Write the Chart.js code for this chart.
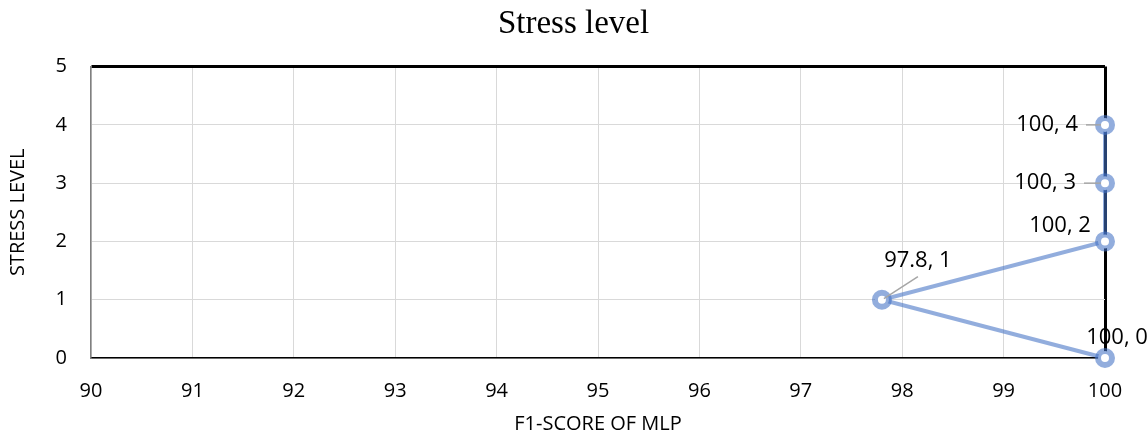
<!DOCTYPE html>
<html>
<head>
<meta charset="utf-8">
<script src="https://cdn.jsdelivr.net/npm/chart.js@4.4.1/dist/chart.umd.min.js"></script>
<style>
  html, body { margin: 0; padding: 0; background: #fff; }
  #wrap { width: 1147px; height: 436px; }
</style>
</head>
<body>
<div id="wrap"><canvas id="chart" width="1147" height="436"></canvas></div>
<script>
// Data
const f1Scores = [100, 97.8, 100, 100, 100];
const stressLevels = [0, 1, 2, 3, 4];
const xTicks = [90, 91, 92, 93, 94, 95, 96, 97, 98, 99, 100];
const yTicks = [0, 1, 2, 3, 4, 5];

const lineColor = 'rgba(68, 114, 196, 0.58)';

// where each data label sits relative to its point (px), and whether it has a leader line
const labelOffsets = [
    { dx: 12, dy: -20, align: 'center', leader: false },
    { dx: 36, dy: -39, align: 'center', leader: true },
    { dx: -45, dy: -16, align: 'center', leader: false },
    { dx: -29, dy: 0, align: 'right', leader: true },
    { dx: -27, dy: 0, align: 'right', leader: true }
];

const dataLabels = {
    id: 'dataLabels',
    afterDatasetsDraw(chart) {
        const ctx = chart.ctx;
        const meta = chart.getDatasetMeta(0);
        ctx.save();
        ctx.font = '22px "Open Sans"';
        ctx.fillStyle = '#000';
        ctx.textBaseline = 'middle';
        meta.data.forEach((pt, i) => {
            const o = labelOffsets[i];
            const text = f1Scores[i] + ', ' + stressLevels[i];
            const tx = pt.x + o.dx;
            const ty = pt.y + o.dy;
            ctx.textAlign = o.align;
            ctx.fillText(text, tx, ty);
            if (o.leader) {
                ctx.strokeStyle = '#a6a6a6';
                ctx.lineWidth = 1.5;
                ctx.beginPath();
                if (o.align === 'right') {
                    ctx.moveTo(tx + 8, ty);
                    ctx.lineTo(pt.x - 4, pt.y);
                } else {
                    ctx.moveTo(tx, ty + 16);
                    ctx.lineTo(pt.x + 2, pt.y - 1);
                }
                ctx.stroke();
            }
        });
        ctx.restore();
    }
};

new Chart(document.getElementById('chart'), {
    type: 'scatter',
    data: {
        datasets: [{
            label: 'Stress level',
            data: f1Scores.map((x, i) => ({ x: x, y: stressLevels[i] })),
            showLine: true,
            borderColor: lineColor,
            borderWidth: 4,
            pointRadius: 7,
            pointBorderWidth: 6,
            pointBorderColor: lineColor,
            pointBackgroundColor: '#fff',
            clip: false
        }]
    },
    options: {
        responsive: false,
        animation: false,
        layout: { padding: 0 },
        plugins: {
            legend: { display: false },
            tooltip: { enabled: false },
            title: {
                display: true,
                text: 'Stress level',
                color: '#000',
                font: { family: '"Liberation Serif"', size: 33, weight: 'normal' },
                padding: { top: 5, bottom: 22 }
            }
        },
        scales: {
            x: {
                type: 'linear',
                min: 90,
                max: 100,
                afterBuildTicks: (scale) => { scale.ticks = xTicks.map(v => ({ value: v })); },
                afterFit: (scale) => { scale.height = 78; },
                ticks: {
                    color: '#000',
                    padding: 21,
                    font: { family: '"Open Sans"', size: 20 }
                },
                grid: {
                    drawTicks: false,
                    color: (c) => c.tick && c.tick.value === 100 ? '#000' : '#d9d9d9',
                    lineWidth: (c) => c.tick && c.tick.value === 100 ? 3 : 1
                },
                border: { color: '#000', width: 1.5 },
                title: {
                    display: true,
                    text: 'F1-SCORE OF MLP',
                    color: '#000',
                    font: { family: '"Open Sans"', size: 20 },
                    padding: { top: 4, bottom: 0 }
                }
            },
            y: {
                type: 'linear',
                min: 0,
                max: 5,
                afterBuildTicks: (scale) => { scale.ticks = yTicks.map(v => ({ value: v })); },
                afterFit: (scale) => { scale.width = 91; },
                ticks: {
                    color: '#000',
                    padding: 24,
                    font: { family: '"Open Sans"', size: 20 }
                },
                grid: {
                    drawTicks: false,
                    color: (c) => c.tick && c.tick.value === 5 ? '#000' : '#d9d9d9',
                    lineWidth: (c) => c.tick && c.tick.value === 5 ? 3 : 1
                },
                border: { color: '#808080', width: 1.5 },
                title: {
                    display: true,
                    text: 'STRESS LEVEL',
                    color: '#000',
                    font: { family: '"Open Sans"', size: 20 },
                    padding: { top: 6, bottom: 0 }
                }
            },
            // empty right-hand strip so the title centres on the page like the original
            yRight: {
                type: 'linear',
                position: 'right',
                min: 0,
                max: 5,
                afterFit: (scale) => { scale.width = 42; },
                ticks: { display: false },
                grid: { display: false, drawOnChartArea: false },
                border: { display: false }
            }
        }
    },
    plugins: [dataLabels]
});
</script>
</body>
</html>
